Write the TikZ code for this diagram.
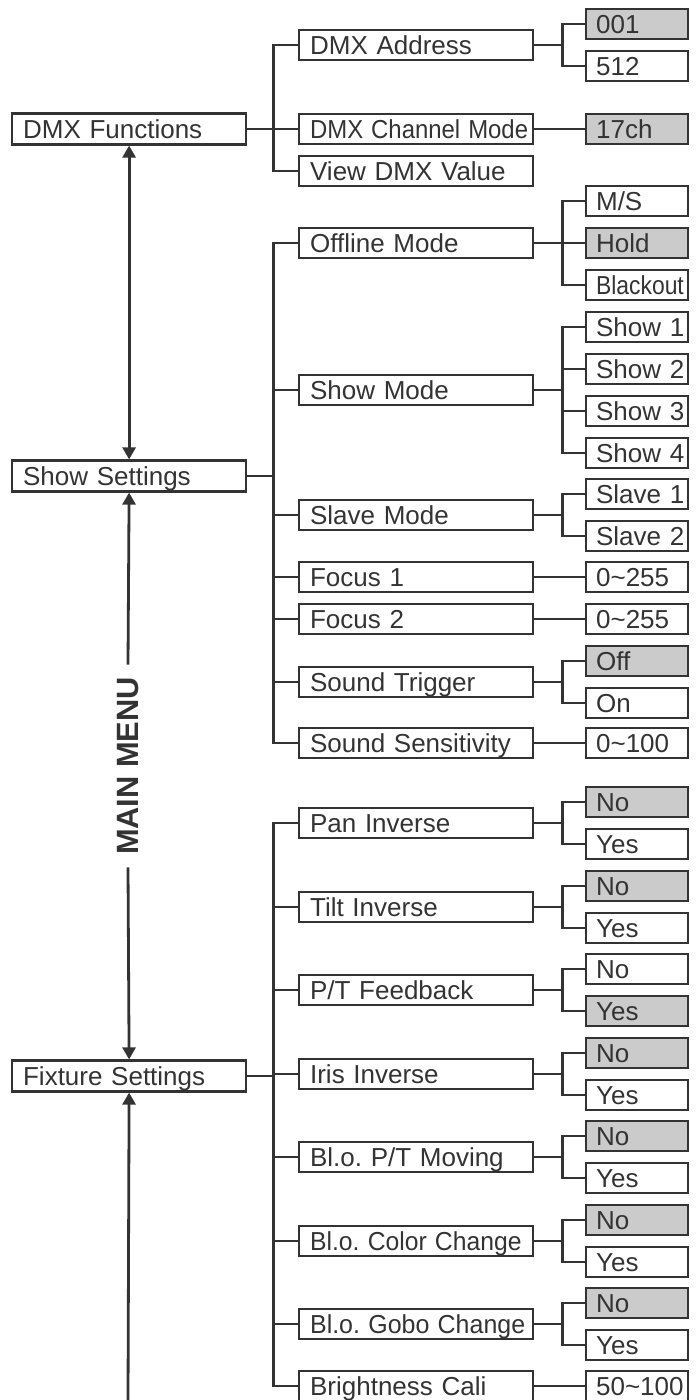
\documentclass[tikz,border=0pt]{standalone}
\usepackage{fontspec}
\setmainfont{Liberation Sans}
\usepackage{graphicx}
\usepackage{tikz}
\usetikzlibrary{arrows.meta}
\definecolor{ink}{HTML}{333333}
\definecolor{selgray}{HTML}{CBCBCB}
\frenchspacing

\begin{document}
\begin{tikzpicture}[
    x=0.5pt, y=-0.5pt,
    >={Triangle[length=6pt,width=6.5pt]},
    color=ink,
    line width=1.4pt,
    box/.style={draw, line width=1.1pt, anchor=west, align=left, font=\fontsize{13}{15}\selectfont, inner xsep=0pt, inner ysep=0pt, text height=11pt, text depth=1.7pt},
    menu/.style={box, text width=117pt, minimum height=15.5pt, execute at begin node={\hspace*{5.5pt}}},
    sub/.style={menu, minimum height=15pt},
    opt/.style={box, text width=51pt, minimum height=15pt, execute at begin node={\hspace*{5pt}}},
    sel/.style={fill=selgray}
  ]
    \useasboundingbox (0,0) rectangle (696,1400);

    % Column 1: Main menu
    \node[menu] (dmxf) at (11, 129) {DMX Functions};
    \node[menu] (show) at (11, 476) {Show Settings};
    \node[menu] (fix) at (11, 1076) {Fixture Settings};
    \node[rotate=90, font=\bfseries\fontsize{15.4}{17}\selectfont, inner xsep=5.5pt] (mm) at (128, 766) {MAIN MENU};
    \coordinate (mmend) at (128, 1400);

    % Column 2: Sub menus
    \node[sub] (addr) at (298, 45) {DMX Address};
    \node[sub] (chmode) at (298, 129) {\scalebox{0.92}[1]{DMX Channel Mode}};
    \node[sub] (view) at (298, 171) {View DMX Value};
    \node[sub] (offline) at (298, 243) {Offline Mode};
    \node[sub] (showmode) at (298, 390) {Show Mode};
    \node[sub] (slave) at (298, 515) {Slave Mode};
    \node[sub] (focusa) at (298, 577) {Focus 1};
    \node[sub] (focusb) at (298, 619) {Focus 2};
    \node[sub] (trigger) at (298, 682) {Sound Trigger};
    \node[sub] (sens) at (298, 743) {Sound Sensitivity};
    \node[sub] (pan) at (298, 823) {Pan Inverse};
    \node[sub] (tilt) at (298, 907) {Tilt Inverse};
    \node[sub] (feedback) at (298, 990) {P/T Feedback};
    \node[sub] (iris) at (298, 1074) {Iris Inverse};
    \node[sub] (ptmove) at (298, 1157) {Bl.o. P/T Moving};
    \node[sub] (colchg) at (298, 1241) {\scalebox{0.95}[1]{Bl.o. Color Change}};
    \node[sub] (gobochg) at (298, 1324) {\scalebox{0.96}[1]{Bl.o. Gobo Change}};
    \node[sub] (bright) at (298, 1386) {Brightness Cali};

    % Column 3: Options
    \node[opt, sel] (addrlo) at (585, 24) {001};
    \node[opt] (addrhi) at (585, 66) {512};
    \node[opt, sel] (ch17) at (585, 129) {17ch};
    \node[opt] (ms) at (585, 201) {M/S};
    \node[opt, sel] (hold) at (585, 243) {Hold};
    \node[opt] (blackout) at (585, 285) {\scalebox{0.88}[1]{Blackout}};
    \node[opt] (showa) at (585, 327) {Show 1};
    \node[opt] (showb) at (585, 369) {Show 2};
    \node[opt] (showc) at (585, 411) {Show 3};
    \node[opt] (showd) at (585, 453) {Show 4};
    \node[opt] (slavea) at (585, 494) {Slave 1};
    \node[opt] (slaveb) at (585, 536) {Slave 2};
    \node[opt] (focusaval) at (585, 577) {0\textasciitilde255};
    \node[opt] (focusbval) at (585, 619) {0\textasciitilde255};
    \node[opt, sel] (trigoff) at (585, 661) {Off};
    \node[opt] (trigon) at (585, 703) {On};
    \node[opt] (sensval) at (585, 743) {0\textasciitilde100};
    \node[opt, sel] (panno) at (585, 802) {No};
    \node[opt] (panyes) at (585, 844) {Yes};
    \node[opt, sel] (tiltno) at (585, 886) {No};
    \node[opt] (tiltyes) at (585, 928) {Yes};
    \node[opt] (fbno) at (585, 969) {No};
    \node[opt, sel] (fbyes) at (585, 1011) {Yes};
    \node[opt, sel] (irisno) at (585, 1053) {No};
    \node[opt] (irisyes) at (585, 1095) {Yes};
    \node[opt, sel] (ptno) at (585, 1136) {No};
    \node[opt] (ptyes) at (585, 1178) {Yes};
    \node[opt, sel] (colno) at (585, 1220) {No};
    \node[opt] (colyes) at (585, 1262) {Yes};
    \node[opt, sel] (gobono) at (585, 1303) {No};
    \node[opt] (goboyes) at (585, 1345) {Yes};
    \node[opt] (brightval) at (585, 1386) {50\textasciitilde100};

    % Main menu arrows
    \draw[<->] (dmxf.south) -- (show.north);
    \draw[<-] (show.south) -- (mm.east);
    \draw[->] (mm.west) -- (fix.north);
    \draw[<-] (fix.south) -- (mmend);

    % Connections: column 1 to column 2
    \draw (dmxf.east) -- ++(26,0) |- (addr.west);
    \draw (dmxf.east) -- (chmode.west);
    \draw (dmxf.east) -- ++(26,0) |- (view.west);
    \draw (show.east) -- ++(26,0) |- (offline.west);
    \draw (show.east) -- ++(26,0) |- (showmode.west);
    \draw (show.east) -- ++(26,0) |- (slave.west);
    \draw (show.east) -- ++(26,0) |- (focusa.west);
    \draw (show.east) -- ++(26,0) |- (focusb.west);
    \draw (show.east) -- ++(26,0) |- (trigger.west);
    \draw (show.east) -- ++(26,0) |- (sens.west);
    \draw (fix.east) -- ++(26,0) |- (pan.west);
    \draw (fix.east) -- ++(26,0) |- (tilt.west);
    \draw (fix.east) -- ++(26,0) |- (feedback.west);
    \draw (fix.east) -- ++(26,0) |- (iris.west);
    \draw (fix.east) -- ++(26,0) |- (ptmove.west);
    \draw (fix.east) -- ++(26,0) |- (colchg.west);
    \draw (fix.east) -- ++(26,0) |- (gobochg.west);
    \draw (fix.east) -- ++(26,0) |- (bright.west);

    % Connections: column 2 to column 3
    \draw (addr.east) -- ++(28,0) |- (addrlo.west);
    \draw (addr.east) -- ++(28,0) |- (addrhi.west);
    \draw (chmode) -- (ch17);
    \draw (offline.east) -- ++(28,0) |- (ms.west);
    \draw (offline.east) -- (hold.west);
    \draw (offline.east) -- ++(28,0) |- (blackout.west);
    \draw (showmode.east) -- ++(28,0) |- (showa.west);
    \draw (showmode.east) -- ++(28,0) |- (showb.west);
    \draw (showmode.east) -- ++(28,0) |- (showc.west);
    \draw (showmode.east) -- ++(28,0) |- (showd.west);
    \draw (slave.east) -- ++(28,0) |- (slavea.west);
    \draw (slave.east) -- ++(28,0) |- (slaveb.west);
    \draw (focusa) -- (focusaval);
    \draw (focusb) -- (focusbval);
    \draw (trigger.east) -- ++(28,0) |- (trigoff.west);
    \draw (trigger.east) -- ++(28,0) |- (trigon.west);
    \draw (sens) -- (sensval);
    \draw (pan.east) -- ++(28,0) |- (panno.west);
    \draw (pan.east) -- ++(28,0) |- (panyes.west);
    \draw (tilt.east) -- ++(28,0) |- (tiltno.west);
    \draw (tilt.east) -- ++(28,0) |- (tiltyes.west);
    \draw (feedback.east) -- ++(28,0) |- (fbno.west);
    \draw (feedback.east) -- ++(28,0) |- (fbyes.west);
    \draw (iris.east) -- ++(28,0) |- (irisno.west);
    \draw (iris.east) -- ++(28,0) |- (irisyes.west);
    \draw (ptmove.east) -- ++(28,0) |- (ptno.west);
    \draw (ptmove.east) -- ++(28,0) |- (ptyes.west);
    \draw (colchg.east) -- ++(28,0) |- (colno.west);
    \draw (colchg.east) -- ++(28,0) |- (colyes.west);
    \draw (gobochg.east) -- ++(28,0) |- (gobono.west);
    \draw (gobochg.east) -- ++(28,0) |- (goboyes.west);
    \draw (bright) -- (brightval);
  \end{tikzpicture}
\end{document}
